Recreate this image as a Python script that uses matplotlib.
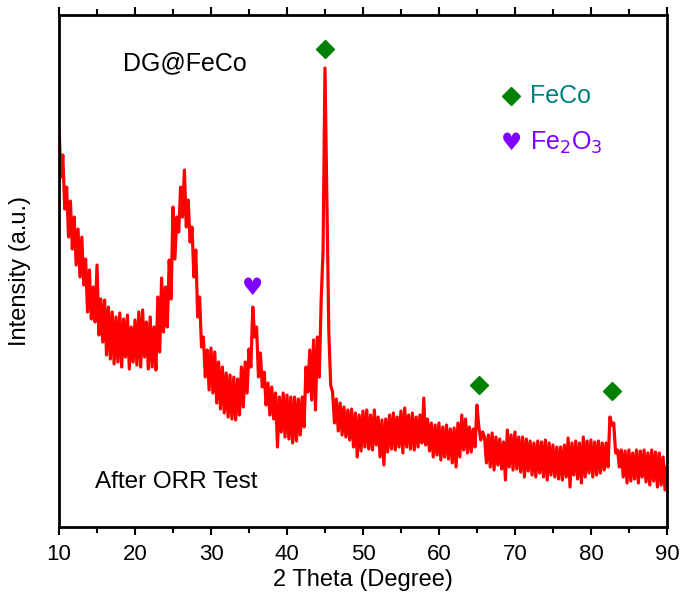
import numpy as np
import matplotlib
matplotlib.use("Agg")
import matplotlib.pyplot as plt

plt.rcParams['font.family'] = ['Liberation Sans', 'DejaVu Sans']

# XRD pattern, 2-theta from 10 to 90 deg in 0.25 deg steps (intensity, a.u.)
two_theta = np.arange(10, 90.001, 0.25)
intensity = [
    399, 350, 372, 318,  340, 290, 326, 278,  310, 262, 298, 250,  290, 242, 268, 215,
    257, 208, 240, 205,  262, 192, 228, 185,  227, 172, 220, 168,  215, 163, 210, 165,
    214, 160, 208, 170,  212, 158, 200, 165,  207, 162, 215, 160,  217, 170, 205, 158,
    210, 160, 200, 157,  230, 175, 249, 195,  240, 200, 267, 228,  320, 268, 310, 295,
    340, 310, 357, 300,  327, 285, 300, 250,  277, 210, 230, 180,  190, 150, 177, 137,
    179, 134, 175, 124,  165, 118, 160, 114,  154, 110, 152, 108,  150, 107, 148, 112,
    160, 120, 165, 134,  178, 160, 220, 190,  200, 150, 174, 140,  155, 122, 144, 112,
    140, 108, 134, 80,   130, 95, 134, 90,    132, 88, 130, 84,    130, 86, 128, 92,
    130, 100, 160, 135,  177, 127, 187, 117,  190, 150, 227, 277,  459, 327, 197, 142,
    135, 104, 128, 96,   124, 92, 120, 90,    117, 87, 118, 80,    114, 70, 112, 76,
    116, 80, 117, 78,    112, 77, 117, 82,    110, 70, 107, 62,    108, 75, 112, 78,
    114, 77, 110, 80,    116, 74, 119, 80,    112, 78, 114, 77,    110, 80, 112, 84,
    129, 82, 108, 76,    104, 70, 102, 72,    104, 67, 100, 70,    102, 68, 98, 64,
    99, 60, 104, 70,     112, 77, 108, 74,    100, 75, 98, 80,     122, 100, 87, 95,
    90, 64, 92, 60,      94, 57, 90, 62,      88, 58, 85, 47,      97, 60, 92, 57,
    95, 58, 90, 55,      90, 50, 88, 56,      86, 52, 84, 50,      86, 54, 85, 50,
    87, 47, 84, 52,      82, 50, 80, 48,      80, 47, 82, 50,      89, 40, 84, 52,
    86, 48, 84, 44,      90, 50, 86, 54,      87, 50, 85, 52,      86, 54, 84, 57,
    84, 60, 110, 102,    104, 74, 77, 60,     77, 50, 76, 44,      77, 46, 74, 48,
    77, 44, 76, 50,      77, 45, 74, 42,      77, 46, 75, 40,      74, 42, 70, 37,
    60,
]

# phase markers
feco_x = [45.0, 65.3, 82.8]
feco_y = [478, 142, 136]
fe2o3_x = [35.5]
fe2o3_y = [239]

fig = plt.figure(figsize=(6.84, 6.02), dpi=100)
ax = fig.add_axes([0.0863, 0.1246, 0.8887, 0.8504])

ax.plot(two_theta, intensity, color='#ff0000', lw=2.3)

ax.plot(feco_x, feco_y, 'D', color='#008000', markersize=9, ls='none')
for x, y in zip(fe2o3_x, fe2o3_y):
    ax.text(x, y, '\u2665', color='#8000ff', fontsize=17, ha='center', va='center',
            family='DejaVu Sans')

ax.text(0.106, 0.905, 'DG@FeCo', transform=ax.transAxes, fontsize=18, va='center')
ax.text(0.059, 0.088, 'After ORR Test', transform=ax.transAxes, fontsize=17.5, va='center')

# legend-like labels
ax.plot([0.744], [0.841], 'D', color='#008000', markersize=9, transform=ax.transAxes)
ax.text(0.775, 0.841, 'FeCo', color='#008080', fontsize=18, va='center',
        transform=ax.transAxes)
ax.text(0.744, 0.750, '\u2665', color='#8000ff', fontsize=17, ha='center', va='center',
        family='DejaVu Sans', transform=ax.transAxes)
ax.text(0.775, 0.750, 'Fe$_2$O$_3$', color='#8000ff', fontsize=18, va='center',
        transform=ax.transAxes)

ax.set_xlim(10, 90)
ax.set_ylim(0, 512)
ax.set_xticks(np.arange(10, 91, 10))
ax.set_xticks(np.arange(15, 90, 10), minor=True)
ax.set_yticks([])
ax.tick_params(axis='x', which='major', direction='out', length=6, width=1.5,
               labelsize=16, top=True, pad=6)
ax.tick_params(axis='x', which='minor', direction='out', length=4, width=1.5, top=True)
for s in ax.spines.values():
    s.set_linewidth(2)

ax.set_xlabel('2 Theta (Degree)', fontsize=17, labelpad=3)
ax.set_ylabel('Intensity (a.u.)', fontsize=17, labelpad=20)

fig.savefig('out.png', dpi=100)
